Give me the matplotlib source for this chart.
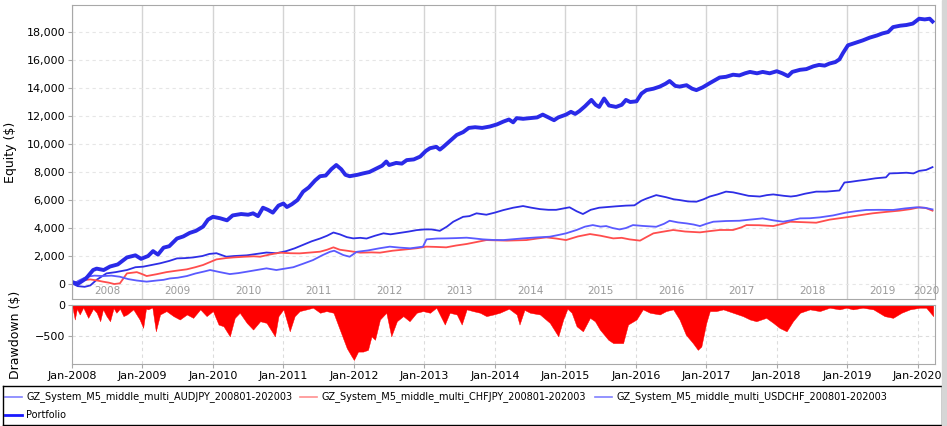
import matplotlib
matplotlib.use("Agg")
import matplotlib.pyplot as plt
from matplotlib.lines import Line2D
from matplotlib.patches import Rectangle
from matplotlib.ticker import FuncFormatter
import numpy as np

plt.rcParams.update({
    "font.family": "DejaVu Sans",
    "font.size": 8,
})

# decimal year / equity in $
pf_t = [2008.00, 2008.08, 2008.20, 2008.30, 2008.35, 2008.45, 2008.54, 2008.65, 2008.78, 2008.90, 2008.98,
        2009.08, 2009.15, 2009.22, 2009.30, 2009.38, 2009.49, 2009.58, 2009.67, 2009.76, 2009.86, 2009.93,
        2010.00, 2010.10, 2010.20, 2010.28, 2010.40, 2010.50, 2010.57, 2010.64, 2010.71, 2010.78, 2010.85, 2010.93,
        2011.00, 2011.05, 2011.12, 2011.20, 2011.28, 2011.36, 2011.45, 2011.52, 2011.60, 2011.68, 2011.75, 2011.82, 2011.88, 2011.94,
        2012.05, 2012.13, 2012.22, 2012.32, 2012.40, 2012.46, 2012.50, 2012.60, 2012.68, 2012.75, 2012.85, 2012.94,
        2013.02, 2013.08, 2013.17, 2013.22, 2013.27, 2013.36, 2013.46, 2013.55, 2013.63, 2013.72, 2013.82, 2013.93,
        2014.03, 2014.12, 2014.20, 2014.26, 2014.31, 2014.40, 2014.50, 2014.60, 2014.68, 2014.76, 2014.84, 2014.90,
        2015.01, 2015.08, 2015.14, 2015.20, 2015.28, 2015.37, 2015.43, 2015.48, 2015.55, 2015.62, 2015.72, 2015.80, 2015.86, 2015.92,
        2016.01, 2016.08, 2016.15, 2016.25, 2016.34, 2016.42, 2016.48, 2016.56, 2016.62, 2016.72, 2016.80, 2016.86, 2016.95,
        2017.05, 2017.12, 2017.19, 2017.28, 2017.38, 2017.47, 2017.55, 2017.62, 2017.72, 2017.80, 2017.90,
        2018.00, 2018.08, 2018.16, 2018.22, 2018.33, 2018.42, 2018.52, 2018.60, 2018.68, 2018.75, 2018.83, 2018.89, 2018.94,
        2019.01, 2019.10, 2019.22, 2019.32, 2019.42, 2019.50, 2019.58, 2019.65, 2019.75, 2019.84, 2019.93,
        2020.02, 2020.10, 2020.17, 2020.21]
pf_v = [150, 0, 400, 1000, 1100, 1000, 1250, 1400, 1900, 2050, 1800,
        2000, 2350, 2100, 2600, 2700, 3250, 3400, 3650, 3800, 4100, 4600,
        4800, 4700, 4550, 4900, 5000, 4950, 5050, 4850, 5450, 5300, 5100, 5600,
        5750, 5500, 5700, 6000, 6600, 6900, 7400, 7700, 7750, 8200, 8500, 8200, 7800, 7700,
        7800, 7900, 8000, 8250, 8450, 8750, 8500, 8650, 8600, 8850, 8900, 9100,
        9500, 9700, 9800, 9600, 9800, 10200, 10650, 10850, 11150, 11200, 11150, 11250,
        11400, 11600, 11750, 11550, 11850, 11800, 11850, 11900, 12100, 11900, 11700, 11900,
        12100, 12300, 12150, 12350, 12700, 13150, 12800, 12650, 13250, 12750, 12650, 12800, 13150, 13000,
        13050, 13600, 13850, 13950, 14100, 14300, 14500, 14150, 14100, 14200, 13950, 13850, 14050,
        14350, 14550, 14750, 14800, 14950, 14900, 15050, 15150, 15050, 15150, 15050,
        15200, 15050, 14850, 15150, 15300, 15350, 15550, 15650, 15600, 15750, 15850, 16050, 16500,
        17050, 17200, 17400, 17600, 17750, 17900, 18000, 18350, 18450, 18500, 18600,
        18950, 18900, 18950, 18750]

aud_t = [2008.00, 2008.08, 2008.18, 2008.26, 2008.35, 2008.49, 2008.62, 2008.78, 2008.90,
         2009.01, 2009.12, 2009.25, 2009.38, 2009.49, 2009.60, 2009.72, 2009.85, 2009.95,
         2010.05, 2010.19, 2010.30, 2010.48, 2010.62, 2010.76, 2010.90,
         2011.04, 2011.16, 2011.28, 2011.40, 2011.52, 2011.62, 2011.71, 2011.80, 2011.90, 2011.99,
         2012.09, 2012.18, 2012.30, 2012.42, 2012.52, 2012.65, 2012.78, 2012.89,
         2013.00, 2013.10, 2013.22, 2013.32, 2013.41, 2013.55, 2013.64, 2013.74, 2013.88,
         2014.00, 2014.12, 2014.26, 2014.40, 2014.52, 2014.64, 2014.76, 2014.87,
         2015.06, 2015.16, 2015.25, 2015.36, 2015.48, 2015.60, 2015.72, 2015.86, 2015.98,
         2016.08, 2016.15, 2016.29, 2016.43, 2016.54, 2016.62, 2016.74, 2016.86, 2016.96,
         2017.05, 2017.16, 2017.28, 2017.38, 2017.47, 2017.60, 2017.76, 2017.86, 2017.95,
         2018.10, 2018.20, 2018.28, 2018.40, 2018.56, 2018.70, 2018.89, 2018.96,
         2019.05, 2019.16, 2019.27, 2019.40, 2019.55, 2019.60, 2019.72, 2019.84, 2019.94,
         2020.02, 2020.12, 2020.21]
aud_v = [50, -150, -200, -100, 300, 760, 850, 1000, 1200,
         1240, 1350, 1480, 1650, 1830, 1850, 1900, 2000, 2150,
         2200, 1950, 2000, 2050, 2150, 2250, 2200,
         2350, 2550, 2800, 3050, 3250, 3450, 3680, 3550, 3350, 3260,
         3300, 3250, 3450, 3620, 3550, 3650, 3750, 3850,
         3900, 3900, 3800, 4100, 4450, 4800, 4850, 5050, 4950,
         5100, 5280, 5450, 5570, 5450, 5350, 5300, 5300,
         5480, 5200, 5000, 5300, 5450, 5500, 5550, 5600, 5620,
         5950, 6100, 6350, 6200, 6050, 6000, 5900, 5880, 6050,
         6250, 6400, 6600, 6550, 6450, 6300, 6250, 6350, 6400,
         6300, 6250, 6300, 6450, 6600, 6600, 6680, 7250,
         7300, 7380, 7450, 7550, 7620, 7900, 7920, 7950, 7900,
         8080, 8150, 8350]

chf_t = [2008.00, 2008.12, 2008.26, 2008.36, 2008.44, 2008.52, 2008.60, 2008.68, 2008.78, 2008.92,
         2009.00, 2009.06, 2009.20, 2009.34, 2009.48, 2009.63, 2009.75, 2009.86, 2009.95,
         2010.05, 2010.18, 2010.29, 2010.45, 2010.58, 2010.67, 2010.80, 2010.95,
         2011.10, 2011.23, 2011.38, 2011.52, 2011.62, 2011.71, 2011.80, 2011.90,
         2012.09, 2012.25, 2012.37, 2012.55, 2012.75, 2012.90,
         2013.03, 2013.17, 2013.31, 2013.45, 2013.60, 2013.74, 2013.88,
         2014.02, 2014.17, 2014.31, 2014.45, 2014.60, 2014.73, 2014.87,
         2015.01, 2015.18, 2015.35, 2015.50, 2015.68, 2015.80, 2015.91,
         2016.06, 2016.15, 2016.25, 2016.40, 2016.53, 2016.70, 2016.91,
         2017.05, 2017.19, 2017.38, 2017.50, 2017.57, 2017.75, 2017.95,
         2018.08, 2018.19, 2018.36, 2018.56, 2018.75, 2018.98,
         2019.16, 2019.36, 2019.55, 2019.74, 2019.90, 2020.02, 2020.12, 2020.21]
chf_v = [0, 250, 330, 250, 170, 100, 0, 50, 760, 850,
         700, 570, 700, 850, 950, 1050, 1200, 1360, 1550,
         1760, 1850, 1900, 1950, 1980, 1950, 2100, 2240,
         2200, 2190, 2250, 2310, 2450, 2620, 2450, 2380,
         2240, 2260, 2240, 2380, 2480, 2560,
         2670, 2650, 2620, 2750, 2860, 3000, 3140,
         3120, 3100, 3120, 3140, 3250, 3330, 3250,
         3140, 3400, 3570, 3450, 3260, 3300, 3190,
         3100, 3350, 3620, 3750, 3860, 3750, 3690,
         3780, 3860, 3860, 4050, 4210, 4200, 4140,
         4300, 4450, 4420, 4380, 4600, 4760,
         4900, 5050, 5150, 5240, 5350, 5480, 5420, 5240]

usd_t = [2008.00, 2008.10, 2008.21, 2008.32, 2008.44, 2008.56, 2008.68, 2008.80, 2008.92,
         2009.06, 2009.20, 2009.30, 2009.39, 2009.50, 2009.63, 2009.75, 2009.88, 2009.96,
         2010.10, 2010.24, 2010.36, 2010.48, 2010.62, 2010.76, 2010.90,
         2011.02, 2011.14, 2011.28, 2011.42, 2011.55, 2011.66, 2011.72, 2011.85, 2011.94,
         2012.04, 2012.20, 2012.36, 2012.51, 2012.65, 2012.80, 2012.98,
         2013.03, 2013.18, 2013.31, 2013.45, 2013.60, 2013.72, 2013.83, 2013.97,
         2014.12, 2014.26, 2014.40, 2014.60, 2014.78, 2014.90,
         2015.01, 2015.16, 2015.28, 2015.39, 2015.50, 2015.58, 2015.67, 2015.77, 2015.86, 2015.96,
         2016.10, 2016.29, 2016.40, 2016.48, 2016.60, 2016.72, 2016.82, 2016.91,
         2017.00, 2017.10, 2017.28, 2017.47, 2017.62, 2017.80, 2017.95,
         2018.09, 2018.20, 2018.33, 2018.47, 2018.61, 2018.80, 2018.98,
         2019.12, 2019.27, 2019.45, 2019.65, 2019.82, 2019.98, 2020.10, 2020.21]
usd_v = [-50, 250, 520, 600, 570, 600, 520, 350, 250,
         170, 250, 300, 400, 450, 570, 750, 900, 1000,
         850, 710, 780, 880, 1000, 1120, 1000,
         1100, 1200, 1450, 1710, 2050, 2300, 2380, 2070, 1950,
         2300, 2400, 2550, 2670, 2600, 2550, 2670,
         3190, 3250, 3260, 3280, 3310, 3250, 3190, 3150,
         3140, 3200, 3260, 3330, 3380, 3500,
         3620, 3860, 4100, 4210, 4100, 4140, 4000, 3900, 4000, 4210,
         4150, 4090, 4300, 4520, 4400, 4330, 4250, 4140,
         4300, 4450, 4500, 4520, 4600, 4690, 4550,
         4450, 4550, 4690, 4700, 4760, 4900, 5100,
         5200, 5290, 5300, 5290, 5400, 5480, 5450, 5330]

# portfolio drawdown in $
dd_t = [2008.00, 2008.04, 2008.07, 2008.11, 2008.16, 2008.23, 2008.30, 2008.35, 2008.40, 2008.44, 2008.49,
        2008.54, 2008.59, 2008.63, 2008.68, 2008.73, 2008.78, 2008.87, 2008.96,
        2009.01, 2009.05, 2009.08, 2009.14, 2009.19, 2009.25, 2009.34, 2009.44, 2009.53, 2009.63, 2009.72,
        2009.82, 2009.91,
        2010.00, 2010.08, 2010.15, 2010.24, 2010.31, 2010.38, 2010.48, 2010.57, 2010.67, 2010.76, 2010.88, 2010.93,
        2011.00, 2011.09, 2011.16, 2011.23, 2011.33, 2011.42, 2011.52, 2011.61, 2011.71, 2011.80, 2011.90, 2011.97,
        2012.00, 2012.06, 2012.13, 2012.20, 2012.25, 2012.30, 2012.37, 2012.46, 2012.53, 2012.61, 2012.70,
        2012.79, 2012.89, 2012.98,
        2013.08, 2013.17, 2013.29, 2013.36, 2013.46, 2013.53, 2013.60, 2013.69, 2013.79, 2013.88, 2013.98,
        2014.07, 2014.20, 2014.31, 2014.35, 2014.42, 2014.50, 2014.64, 2014.78, 2014.90, 2014.97,
        2015.03, 2015.09, 2015.16, 2015.25, 2015.35, 2015.42, 2015.49, 2015.61, 2015.68, 2015.77, 2015.82,
        2015.89, 2016.01, 2016.10, 2016.20, 2016.34, 2016.43, 2016.53, 2016.62, 2016.71, 2016.81, 2016.88,
        2016.93, 2017.00, 2017.05, 2017.14, 2017.24, 2017.38, 2017.52, 2017.62, 2017.71, 2017.85, 2017.95,
        2018.04, 2018.14, 2018.23, 2018.33, 2018.47, 2018.61, 2018.75, 2018.89, 2018.99,
        2019.08, 2019.22, 2019.37, 2019.53, 2019.65, 2019.77, 2019.89, 2020.03, 2020.12, 2020.22]
dd_v = [0, -236, -60, -154, -40, -209, -60, -126, -264, -70, -181,
        -264, -50, -126, -60, -181, -154, -71, -236,
        -373, -60, -71, -40, -428, -154, -99, -181, -236, -154, -209,
        -71, -181,
        -99, -318, -346, -510, -209, -126, -291, -400, -264, -291, -510, -181,
        -71, -428, -181, -99, -71, -44, -126, -99, -126, -400, -703, -840,
        -895, -758, -758, -730, -511, -566, -236, -126, -510, -264, -181,
        -264, -126, -99,
        -126, -44, -318, -126, -154, -318, -71, -99, -126, -181, -154,
        -126, -60, -154, -318, -80, -126, -154, -291, -510, -236,
        -60, -126, -346, -428, -209, -264, -400, -566, -620, -620, -620,
        -318, -236, -71, -126, -154, -99, -71, -236, -483, -620, -730,
        -675, -291, -99, -99, -71, -126, -181, -236, -264, -209, -291,
        -373, -428, -264, -126, -71, -99, -44, -71, -44,
        -71, -44, -71, -181, -209, -126, -71, -44, -44, -181]

years = list(range(2008, 2021))
series_names = ["GZ_System_M5_middle_multi_AUDJPY_200801-202003",
                "GZ_System_M5_middle_multi_CHFJPY_200801-202003",
                "GZ_System_M5_middle_multi_USDCHF_200801-202003",
                "Portfolio"]

X0, X1 = 2008.0, 2020.245
GRID = "#d4d4d4"
SPINE = "#a8a8a8"

fig = plt.figure(figsize=(9.47, 4.26), dpi=100)
fig.patches.append(Rectangle((0.9945, 0), 0.0055, 1, transform=fig.transFigure, color="#d6d6d6"))

# equity panel
ax = fig.add_axes([0.076, 0.2981, 0.9113, 0.6902])
for y in years:
    ax.axvline(y, color=GRID, lw=1.0, zorder=0)
for v in range(0, 20000, 2000):
    ax.axhline(v, color="#e6e6e6", lw=0.8, ls=(0, (3, 3)), zorder=0)
ax.plot(aud_t, aud_v, color="#2e2ee6", lw=1.3)
ax.plot(chf_t, chf_v, color="#ff4d4d", lw=1.3)
ax.plot(usd_t, usd_v, color="#5a5aff", lw=1.3)
ax.plot(pf_t, pf_v, color="#2a2ae8", lw=2.8)
ax.set_xlim(X0, X1)
ax.set_ylim(-1070, 19930)
ax.set_yticks(range(0, 20000, 2000))
ax.yaxis.set_major_formatter(FuncFormatter(lambda v, p: f"{int(v):,}"))
ax.set_xticks([])
ax.tick_params(axis="y", length=3, color=SPINE, labelsize=8, pad=2)
ax.set_ylabel("Equity ($)", fontsize=9, labelpad=7)
for y in years:
    mid = (y + min(y + 1, X1)) / 2
    ax.text(mid, 0.027, str(y), transform=ax.get_xaxis_transform(),
            ha="center", va="center", fontsize=7.5, color="#9a9a9a")
for s in ax.spines.values():
    s.set_color(SPINE)

# drawdown panel
ax2 = fig.add_axes([0.076, 0.1455, 0.9113, 0.1385])
for y in years:
    ax2.axvline(y, color="#dcdcdc", lw=0.8, ls=(0, (3, 3)), zorder=0)
ax2.axhline(-500, color="#dcdcdc", lw=0.8, ls=(0, (3, 3)), zorder=0)
ax2.fill_between(dd_t, dd_v, 0, color="#ff0000", lw=0.3)
ax2.set_xlim(X0, X1)
ax2.set_ylim(-960, 0)
ax2.set_yticks([0, -500])
ax2.set_xticks(years)
ax2.set_xticklabels([f"Jan-{y}" for y in years])
ax2.tick_params(length=3, color=SPINE, labelsize=8, pad=2)
ax2.set_ylabel("Drawdown ($)", fontsize=9, labelpad=9)
for s in ax2.spines.values():
    s.set_color(SPINE)

# legend box
lg = fig.add_axes([0.0032, 0.0023, 0.9916, 0.0915])
lg.set_xlim(0, 939)
lg.set_ylim(39, 0)
lg.set_xticks([])
lg.set_yticks([])
for s in lg.spines.values():
    s.set_color("black")
    s.set_linewidth(1.0)
legend_colors = ["#8080ff", "#ff9090", "#8080ff", "#1a1aff"]
legend_widths = [1.2, 1.2, 1.2, 2.0]
legend_pos = [(2, 11), (297, 11), (592, 11), (2, 29)]
for name, c, w, (lx, ly) in zip(series_names, legend_colors, legend_widths, legend_pos):
    lg.add_line(Line2D([lx, lx + 17], [ly, ly], color=c, lw=w))
    lg.text(lx + 21, ly, name, ha="left", va="center", fontsize=7.0)

fig.savefig("out.png", dpi=100)
